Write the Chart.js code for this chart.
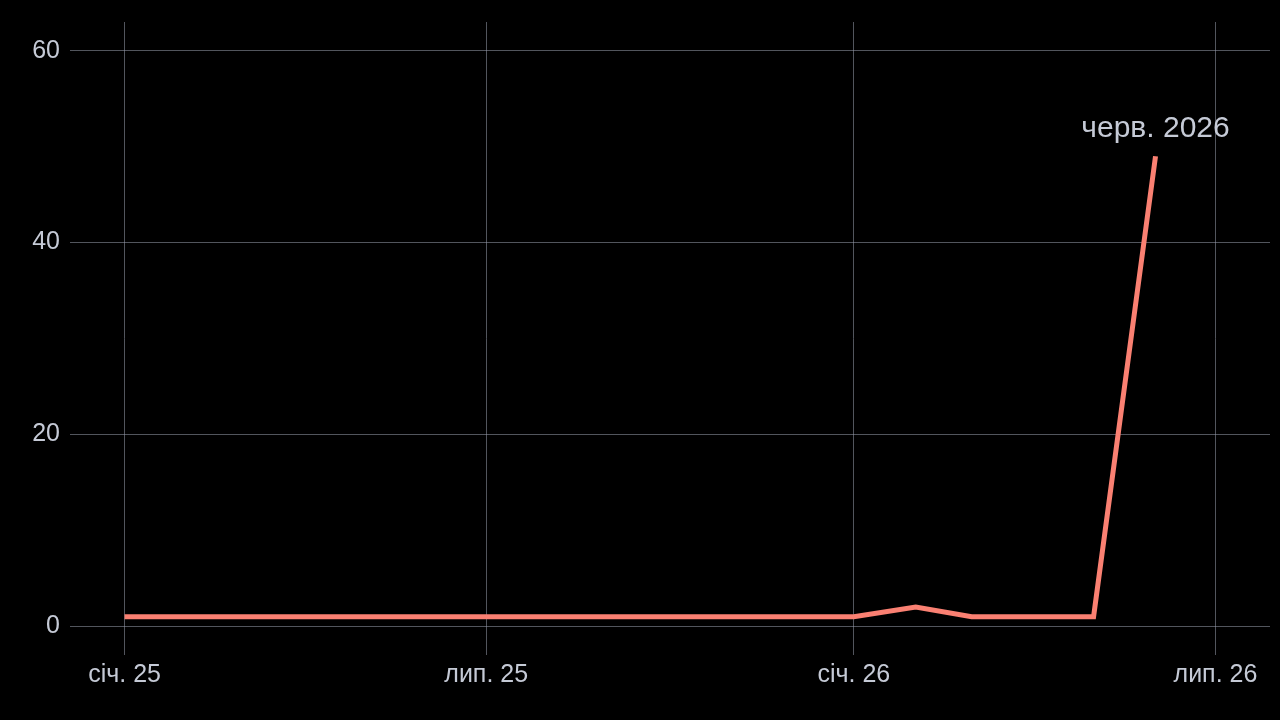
<!DOCTYPE html>
<html>
<head>
<meta charset="utf-8">
<script src="https://cdn.jsdelivr.net/npm/chart.js@4.4.1/dist/chart.umd.min.js"></script>
<style>
html,body{margin:0;padding:0;background:#000;}
#wrap{width:1280px;height:720px;position:relative;}
</style>
</head>
<body>
<div id="wrap"><canvas id="c" width="1280" height="720"></canvas></div>
<script>
const months = ["2025-01","2025-02","2025-03","2025-04","2025-05","2025-06","2025-07","2025-08","2025-09","2025-10","2025-11","2025-12","2026-01","2026-02","2026-03","2026-04","2026-05","2026-06"];
const values = [1,1,1,1,1,1,1,1,1,1,1,1,1,2,1,1,1,49];
const xTickDates = ["2025-01","2025-07","2026-01","2026-07"];
const xTickLabels = ["січ. 25","лип. 25","січ. 26","лип. 26"];
const yTicks = [0,20,40,60];
const endLabel = "черв. 2026";

const toMs = s => { const [y,m] = s.split("-").map(Number); return Date.UTC(y, m-1, 1); };
const limLo = toMs("2025-01"), limHi = toMs("2026-07");
const pad = (limHi - limLo) * 0.05;

const pts = months.map((m,i)=>({x:toMs(m), y:values[i]}));
const textColor = "#c5cad6";
const gridColor = "rgba(150,155,170,0.55)";
const fontFam = "'Liberation Sans', Arial, sans-serif";

const bg = {id:'bg', beforeDraw(c){const ctx=c.ctx;ctx.save();ctx.fillStyle='#000';ctx.fillRect(0,0,c.width,c.height);ctx.restore();}};
const lbl = {id:'lbl', afterDatasetsDraw(c){
  const ctx=c.ctx; const last=pts[pts.length-1];
  const x=c.scales.x.getPixelForValue(last.x), y=c.scales.y.getPixelForValue(last.y);
  ctx.save(); ctx.fillStyle=textColor; ctx.font="30px "+fontFam; ctx.textAlign='center'; ctx.textBaseline='alphabetic';
  ctx.fillText(endLabel, x, y-19); ctx.restore();
}};

new Chart(document.getElementById('c'), {
  type:'line',
  data:{datasets:[{data:pts, borderColor:'#fa8072', borderWidth:5, pointRadius:0, tension:0, fill:false, borderJoinStyle:'miter'}]},
  options:{
    responsive:false, animation:false, devicePixelRatio:1,
    layout:{padding:{top:22,right:10,left:0,bottom:0}},
    plugins:{legend:{display:false},tooltip:{enabled:false}},
    scales:{
      x:{type:'linear', min:limLo-pad, max:limHi+pad,
        afterBuildTicks(s){ s.ticks = xTickDates.map(d=>({value:toMs(d)})); },
        afterFit(s){ s.height = 65; s.paddingLeft = 0; s.paddingRight = 0; },
        grid:{color:gridColor, lineWidth:1, drawTicks:false},
        border:{display:false},
        ticks:{color:textColor, font:{size:25, family:fontFam}, padding:5, maxRotation:0, autoSkip:false,
          callback(v){ const i = xTickDates.findIndex(d=>toMs(d)===v); return i>=0 ? xTickLabels[i] : ''; }}
      },
      y:{type:'linear', min:-3, max:63,
        afterBuildTicks(s){ s.ticks = yTicks.map(v=>({value:v})); },
        afterFit(s){ s.width = 70; s.paddingTop = 0; s.paddingBottom = 0; },
        grid:{color:gridColor, lineWidth:1, drawTicks:false},
        border:{display:false},
        ticks:{color:textColor, font:{size:25, family:fontFam}, padding:10}
      }
    }
  },
  plugins:[bg,lbl]
});
</script>
</body>
</html>
